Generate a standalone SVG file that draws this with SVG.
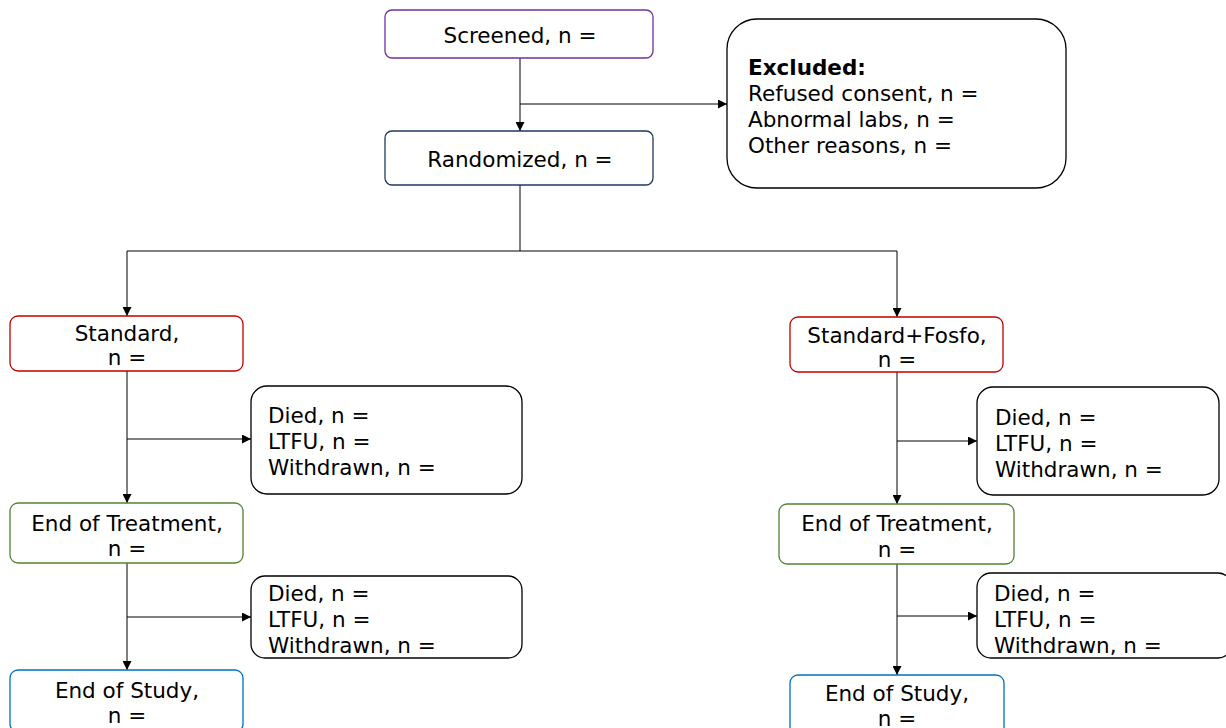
<svg xmlns="http://www.w3.org/2000/svg" width="1226" height="728" viewBox="0 0 1226 728">
<style>
text{font-family:"DejaVu Sans",Verdana,sans-serif;font-size:21.5px;fill:#000}
.c{text-anchor:middle}
.b{font-weight:bold}
.box{fill:#fff;stroke-width:1.3}
.k{stroke:#000}
.p{stroke:#7030A0}
.n{stroke:#1F3864}
.r{stroke:#C00000}
.g{stroke:#548235}
.bl{stroke:#0070C0}
.ln{fill:none;stroke:#000;stroke-width:1}
</style>
<defs>
<marker id="ah" viewBox="0 0 10 10" refX="10" refY="5" markerWidth="9" markerHeight="9" markerUnits="userSpaceOnUse" orient="auto"><path d="M0,0L10,5L0,10z" fill="#000"/></marker>
</defs>
<rect width="1226" height="728" fill="#fff"/>
<g id="connectors">
<path class="ln" d="M520,58V131" marker-end="url(#ah)"/>
<path class="ln" d="M520,104H727" marker-end="url(#ah)"/>
<path class="ln" d="M520,185V251"/>
<path class="ln" d="M520,251H127V316" marker-end="url(#ah)"/>
<path class="ln" d="M520,251H897V317" marker-end="url(#ah)"/>
<path class="ln" d="M127,371V503" marker-end="url(#ah)"/>
<path class="ln" d="M127,439H251" marker-end="url(#ah)"/>
<path class="ln" d="M127,563V670" marker-end="url(#ah)"/>
<path class="ln" d="M127,617H251" marker-end="url(#ah)"/>
<path class="ln" d="M897,372V504" marker-end="url(#ah)"/>
<path class="ln" d="M897,441H977" marker-end="url(#ah)"/>
<path class="ln" d="M897,564V675" marker-end="url(#ah)"/>
<path class="ln" d="M897,616H977" marker-end="url(#ah)"/>
</g>
<g id="screened"><rect class="box p" x="385" y="10" width="268" height="48" rx="7"/><text class="c" x="520" y="43">Screened, n =</text></g>
<g id="randomized"><rect class="box n" x="385" y="131" width="268" height="54" rx="7"/><text class="c" x="520" y="167">Randomized, n =</text></g>
<g id="excluded"><rect class="box k" x="727" y="19" width="339" height="169" rx="30"/>
<text class="b" x="748" y="75">Excluded:</text>
<text x="748" y="101">Refused consent, n =</text>
<text x="748" y="127">Abnormal labs, n =</text>
<text x="748" y="153">Other reasons, n =</text></g>
<g id="standard"><rect class="box r" x="10" y="316" width="233" height="55" rx="8"/><text class="c" x="127" y="341">Standard,</text><text class="c" x="127" y="365">n =</text></g>
<g id="left-loss1"><rect class="box k" x="251" y="386" width="271" height="108" rx="16"/>
<text x="268" y="423">Died, n =</text><text x="268" y="449">LTFU, n =</text><text x="268" y="475">Withdrawn, n =</text></g>
<g id="left-eot"><rect class="box g" x="10" y="503" width="233" height="60" rx="8"/><text class="c" x="127" y="531">End of Treatment,</text><text class="c" x="127" y="556">n =</text></g>
<g id="left-loss2"><rect class="box k" x="251" y="576" width="271" height="82" rx="14"/>
<text x="268" y="601">Died, n =</text><text x="268" y="627">LTFU, n =</text><text x="268" y="653">Withdrawn, n =</text></g>
<g id="left-eos"><rect class="box bl" x="10" y="670" width="233" height="62" rx="8"/><text class="c" x="127" y="698">End of Study,</text><text class="c" x="127" y="723">n =</text></g>
<g id="fosfo"><rect class="box r" x="790" y="317" width="213" height="55" rx="8"/><text class="c" x="897" y="343">Standard+Fosfo,</text><text class="c" x="897" y="367">n =</text></g>
<g id="right-loss1"><rect class="box k" x="977" y="387" width="242" height="108" rx="16"/>
<text x="995" y="425">Died, n =</text><text x="995" y="451">LTFU, n =</text><text x="995" y="477">Withdrawn, n =</text></g>
<g id="right-eot"><rect class="box g" x="779" y="504" width="235" height="60" rx="8"/><text class="c" x="897" y="531">End of Treatment,</text><text class="c" x="897" y="557">n =</text></g>
<g id="right-loss2"><rect class="box k" x="977" y="573" width="255" height="85" rx="14"/>
<text x="994" y="601">Died, n =</text><text x="994" y="627">LTFU, n =</text><text x="994" y="653">Withdrawn, n =</text></g>
<g id="right-eos"><rect class="box bl" x="790" y="675" width="214" height="62" rx="8"/><text class="c" x="897" y="701">End of Study,</text><text class="c" x="897" y="726">n =</text></g>
</svg>
